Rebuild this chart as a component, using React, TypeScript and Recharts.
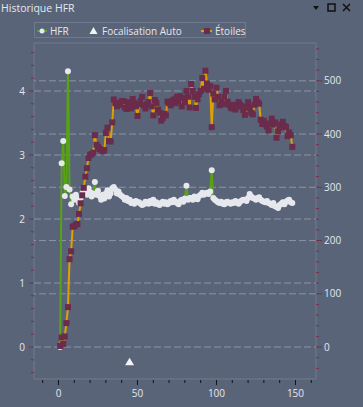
import { ComposedChart, Line, Scatter, XAxis, YAxis, ReferenceLine, ReferenceArea } from 'recharts';

// HFR par image (axe gauche)
const hfr = [
  0, 2.87, 3.22, 2.36, 2.5, 4.31, 2.46, 2.23, 2.35, 2.3,
  2.38, 2.32, 2.25, 2.33, 2.4, 2.45, 2.42, 2.38, 2.48, 2.42,
  2.35, 2.4, 2.58, 2.38, 2.44, 2.36, 2.3, 2.38, 2.32, 2.4,
  2.45, 2.35, 2.4, 2.48, 2.5, 2.46, 2.4, 2.43, 2.38, 2.36,
  2.34, 2.3, 2.33, 2.28, 2.3, 2.25, 2.27, 2.24, 2.28, 2.26,
  2.26, 2.24, 2.22, 2.23, 2.27, 2.26, 2.24, 2.28, 2.25, 2.3,
  2.24, 2.26, 2.23, 2.22, 2.25, 2.27, 2.24, 2.26, 2.23, 2.25,
  2.28, 2.26, 2.3, 2.27, 2.25, 2.23, 2.28, 2.3, 2.27, 2.32,
  2.52, 2.3, 2.33, 2.33, 2.3, 2.35, 2.32, 2.31, 2.36, 2.38,
  2.41, 2.38, 2.4, 2.41, 2.39, 2.43, 2.76, 2.33, 2.3, 2.28,
  2.26, 2.25, 2.27, 2.24, 2.23, 2.26, 2.27, 2.25, 2.24, 2.26,
  2.25, 2.28, 2.26, 2.24, 2.27, 2.29, 2.3, 2.3, 2.28, 2.33,
  2.39, 2.35, 2.33, 2.32, 2.3, 2.33, 2.34, 2.3, 2.28, 2.27,
  2.26, 2.28, 2.25, 2.24, 2.22, 2.25, 2.2, 2.19, 2.17, 2.22,
  2.24, 2.26, 2.23, 2.27, 2.29, 2.3, 2.26, 2.25,
];

// nombre d'étoiles par image (axe droit)
const etoiles = [
  2, 18, 6, 20, 45, 75, 165, 180, 226, 227,
  230, 231, 250, 270, 285, 299, 320, 336, 355, 361,
  362, 365, 398, 380, 376, 372, 370, 368, 370, 402,
  412, 387, 386, 422, 465, 458, 452, 458, 455, 462,
  462, 450, 447, 460, 455, 448, 466, 458, 452, 434,
  456, 462, 470, 454, 448, 456, 460, 477, 452, 435,
  464, 458, 446, 440, 425, 430, 438, 435, 461, 458,
  454, 462, 465, 458, 470, 462, 471, 452, 468, 460,
  481, 470, 450, 494, 481, 470, 449, 465, 475, 481,
  505, 485, 519, 495, 483, 490, 413, 476, 465, 487,
  470, 454, 460, 456, 470, 481, 461, 455, 450, 448,
  455, 446, 452, 460, 455, 452, 445, 436, 450, 460,
  449, 440, 437, 455, 466, 460, 457, 427, 419, 425,
  418, 414, 407, 420, 429, 418, 422, 393, 405, 412,
  418, 423, 415, 413, 396, 403, 398, 376,
];

const autofocusX = [45];
const autofocusY = [-0.23];

const xTicks = [-10, 0, 10, 20, 30, 40, 50, 60, 70, 80, 90, 100, 110, 120, 130, 140, 150, 160];
const xLabels = [0, 50, 100, 150];
const leftTicks = [-0.4, -0.2, 0, 0.2, 0.4, 0.6, 0.8, 1, 1.2, 1.4, 1.6, 1.8, 2, 2.2, 2.4, 2.6, 2.8, 3, 3.2, 3.4, 3.6, 3.8, 4, 4.2, 4.4, 4.6];
const leftLabels = [0, 1, 2, 3, 4];
const rightTicks = [-40, -20, 0, 20, 40, 60, 80, 100, 120, 140, 160, 180, 200, 220, 240, 260, 280, 300, 320, 340, 360, 380, 400, 420, 440, 460, 480, 500, 520, 540, 560];
const rightLabels = [0, 100, 200, 300, 400, 500];

const hfrData = hfr.map((v, i) => ({ x: i + 1, y: v }));
const etoilesData = etoiles.map((v, i) => ({ x: i + 1, y: v }));
const autofocusData = autofocusX.map((x, i) => ({ x, y: autofocusY[i] }));

const BG = '#5a6479';
const FRAME = '#6f7990';
const GRID = '#8b93a6';
const TEXT = '#e4e7ee';
const TICK_RED = '#7b2d44';
const FONT = '"Open Sans", "Noto Sans", sans-serif';

const X_DOMAIN = [-15.5, 163];
const L_DOMAIN = [-0.5, 4.75];
const R_DOMAIN = [-60, 571];

const isLabel = (v: number, list: number[]) => list.some((l) => Math.abs(l - v) < 1e-6);

const LeftTick = ({ x, y, payload }: any) => {
  const major = isLabel(payload.value, leftLabels);
  return (
    <g>
      <line x1={x - (major ? 5 : 3)} x2={x} y1={y} y2={y} stroke={TICK_RED} strokeWidth={1} />
      {major && (
        <text x={x - 9} y={y} dy={3.5} textAnchor="end" fill={TEXT} fontSize={10} fontFamily={FONT}>
          {payload.value}
        </text>
      )}
    </g>
  );
};

const RightTick = ({ x, y, payload }: any) => {
  const major = isLabel(payload.value, rightLabels);
  return (
    <g>
      <line x1={x} x2={x + (major ? 6 : 3)} y1={y} y2={y} stroke={TICK_RED} strokeWidth={1} />
      {major && (
        <text x={x + 8} y={y} dy={3.5} textAnchor="start" fill={TEXT} fontSize={10} fontFamily={FONT}>
          {payload.value}
        </text>
      )}
    </g>
  );
};

const BottomTick = ({ x, y, payload }: any) => {
  const major = isLabel(payload.value, xLabels);
  return (
    <g>
      <line x1={x} x2={x} y1={y + 1} y2={y + (major ? 6 : 4)} stroke="#111" strokeWidth={1} />
      {major && (
        <text x={x} y={y + 18} textAnchor="middle" fill={TEXT} fontSize={10} fontFamily={FONT}>
          {payload.value}
        </text>
      )}
    </g>
  );
};

const HfrDot = (p: any) => <circle key={p.key} cx={p.cx} cy={p.cy} r={3} fill="#e6e8ee" />;
const StarDot = (p: any) => <rect key={p.key} x={p.cx - 3} y={p.cy - 3} width={6} height={6} fill="#6b2b4b" />;
const Triangle = (p: any) => (
  <path d={`M${p.cx},${p.cy - 4} L${p.cx + 4.5},${p.cy + 3.5} L${p.cx - 4.5},${p.cy + 3.5} Z`} fill="#f2f3f6" />
);

function LegendBox() {
  const item = { display: 'flex', alignItems: 'center', position: 'absolute' as const, top: 0, height: 15 };
  return (
    <div
      style={{
        position: 'absolute', left: 34, top: 22, width: 210, height: 14,
        border: `1px solid ${FRAME}`, fontFamily: FONT, fontSize: 10, color: TEXT,
      }}
    >
      <div style={{ ...item, left: 2 }}>
        <svg width={10} height={10}>
          <line x1={0} x2={10} y1={5} y2={5} stroke="#58a314" strokeWidth={2} />
          <circle cx={5} cy={5} r={2.5} fill="#e6e8ee" />
        </svg>
        <span style={{ marginLeft: 3 }}>HFR</span>
      </div>
      <div style={{ ...item, left: 54 }}>
        <svg width={9} height={10}>
          <path d="M4.5,1 L8.5,8 L0.5,8 Z" fill="#f2f3f6" />
        </svg>
        <span style={{ marginLeft: 4 }}>Focalisation Auto</span>
      </div>
      <div style={{ ...item, left: 166 }}>
        <svg width={11} height={10}>
          <line x1={0} x2={11} y1={5} y2={5} stroke="#e0a000" strokeWidth={2} />
          <rect x={3} y={2} width={6} height={6} fill="#6b2b4b" />
        </svg>
        <span style={{ marginLeft: 3 }}>Étoiles</span>
      </div>
    </div>
  );
}

export default function App() {
  return (
    <div style={{ position: 'fixed', left: 0, top: 0, width: 363, height: 407, background: BG, overflow: 'hidden' }}>
      <div style={{ position: 'absolute', left: 1, top: 1, fontFamily: FONT, fontSize: 10.5, color: TEXT }}>
        Historique HFR
      </div>
      <svg style={{ position: 'absolute', left: 310, top: 2 }} width={50} height={12}>
        <path d="M3,4 L9,4 L6,8 Z" fill="#111" />
        <rect x={18} y={2} width={7} height={7} fill="none" stroke="#111" strokeWidth={1.5} />
        <path d="M33,2 L40,9 M40,2 L33,9" stroke="#111" strokeWidth={1.5} />
      </svg>
      <LegendBox />
      <ComposedChart width={363} height={407} margin={{ top: 43, right: 0, bottom: 0, left: 0 }}>
        <XAxis
          dataKey="x"
          type="number"
          domain={X_DOMAIN}
          allowDataOverflow
          ticks={xTicks}
          interval={0}
          tick={<BottomTick />}
          tickLine={false}
          tickSize={0}
          tickMargin={0}
          axisLine={false}
          height={28}
        />
        <YAxis
          yAxisId="left"
          dataKey="y"
          type="number"
          domain={L_DOMAIN}
          allowDataOverflow
          ticks={leftTicks}
          interval={0}
          tick={<LeftTick />}
          tickLine={false}
          tickSize={0}
          tickMargin={0}
          axisLine={false}
          width={34}
        />
        <YAxis
          yAxisId="right"
          orientation="right"
          dataKey="y"
          type="number"
          domain={R_DOMAIN}
          allowDataOverflow
          ticks={rightTicks}
          interval={0}
          tick={<RightTick />}
          tickLine={false}
          tickSize={0}
          tickMargin={0}
          axisLine={false}
          width={47}
        />
        {leftLabels.map((v) => (
          <ReferenceLine key={`l${v}`} yAxisId="left" y={v} stroke={GRID} strokeDasharray="7 3" />
        ))}
        {rightLabels.filter((v) => v !== 0).map((v) => (
          <ReferenceLine key={`r${v}`} yAxisId="right" y={v} stroke={GRID} strokeDasharray="7 3" />
        ))}
        <ReferenceArea
          yAxisId="left"
          x1={X_DOMAIN[0]}
          x2={X_DOMAIN[1]}
          y1={L_DOMAIN[0]}
          y2={L_DOMAIN[1]}
          fill="none"
          fillOpacity={0}
          stroke={FRAME}
          strokeWidth={1}
        />
        <Line
          yAxisId="left"
          data={hfrData}
          dataKey="y"
          type="linear"
          stroke="#58a314"
          strokeWidth={2}
          dot={HfrDot}
          activeDot={false}
          isAnimationActive={false}
        />
        <Line
          yAxisId="right"
          data={etoilesData}
          dataKey="y"
          type="linear"
          stroke="#e0a000"
          strokeWidth={2}
          dot={StarDot}
          activeDot={false}
          isAnimationActive={false}
        />
        <Scatter yAxisId="left" data={autofocusData} dataKey="y" shape={Triangle} isAnimationActive={false} />
      </ComposedChart>
    </div>
  );
}
